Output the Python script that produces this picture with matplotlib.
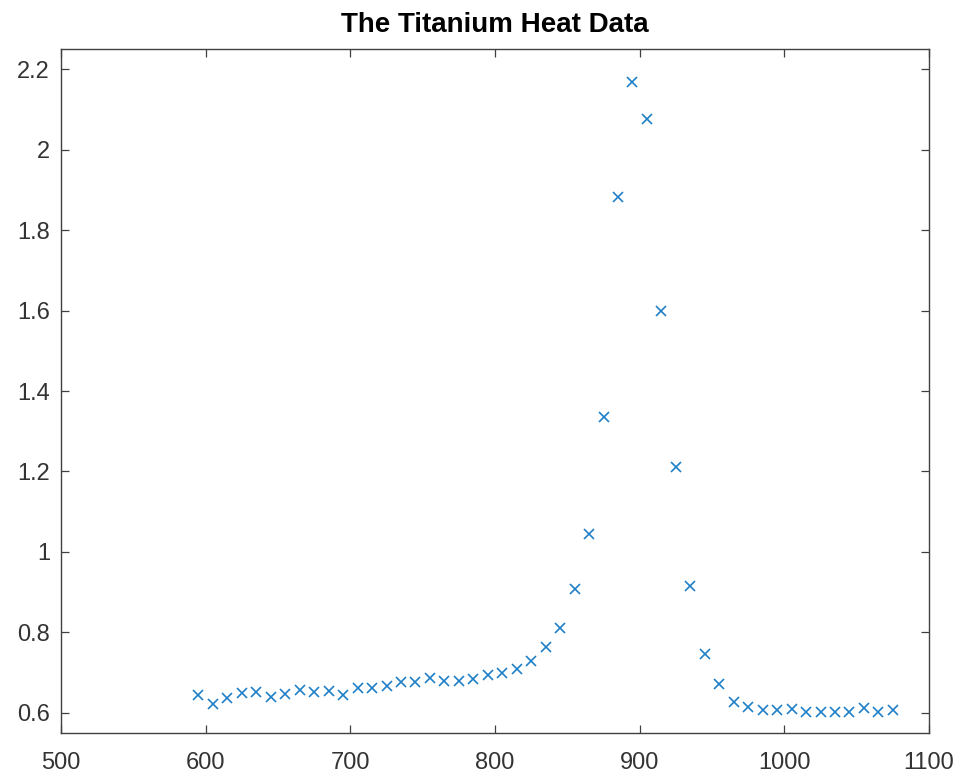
import matplotlib
matplotlib.use("Agg")
import matplotlib.pyplot as plt
import numpy as np

temperature = list(range(595, 1076, 10))
heat = [0.644, 0.622, 0.638, 0.649, 0.652, 0.639, 0.646, 0.657, 0.652, 0.655,
        0.644, 0.663, 0.663, 0.668, 0.676, 0.676, 0.686, 0.679, 0.678, 0.683,
        0.694, 0.699, 0.710, 0.730, 0.763, 0.812, 0.907, 1.044, 1.336, 1.881,
        2.169, 2.075, 1.598, 1.211, 0.916, 0.746, 0.672, 0.627, 0.615, 0.607,
        0.606, 0.609, 0.603, 0.601, 0.603, 0.601, 0.611, 0.601, 0.608]
xticks = [500, 600, 700, 800, 900, 1000, 1100]
yticks = [0.6, 0.8, 1.0, 1.2, 1.4, 1.6, 1.8, 2.0, 2.2]
ytick_labels = ["0.6", "0.8", "1", "1.2", "1.4", "1.6", "1.8", "2", "2.2"]

plt.rcParams['font.family'] = ['Liberation Sans', 'DejaVu Sans']
fig = plt.figure(figsize=(9.6, 7.76), dpi=100)
ax = fig.add_axes([61/960, 1 - 733/776, 868/960, 684/776])
ax.plot(temperature, heat, linestyle='none', marker='x', color='#1f80c8',
        markersize=7.5, markeredgewidth=1.2)
ax.set_xlim(500, 1100)
ax.set_ylim(0.55, 2.25)
ax.set_xticks(xticks)
ax.set_xticklabels([str(t) for t in xticks])
ax.set_yticks(yticks)
ax.set_yticklabels(ytick_labels)
ax.tick_params(direction='in', top=True, right=True, labelsize=17,
               colors='#404040', length=6, width=0.9, labelcolor='#333333')
ax.tick_params(axis='y', pad=8)
ax.tick_params(axis='x', pad=14)
for s in ax.spines.values():
    s.set_color('#404040')
    s.set_linewidth(1.0)
ax.set_title("The Titanium Heat Data", fontsize=20, fontweight='bold', pad=12)
fig.savefig("out.png", dpi=100)
